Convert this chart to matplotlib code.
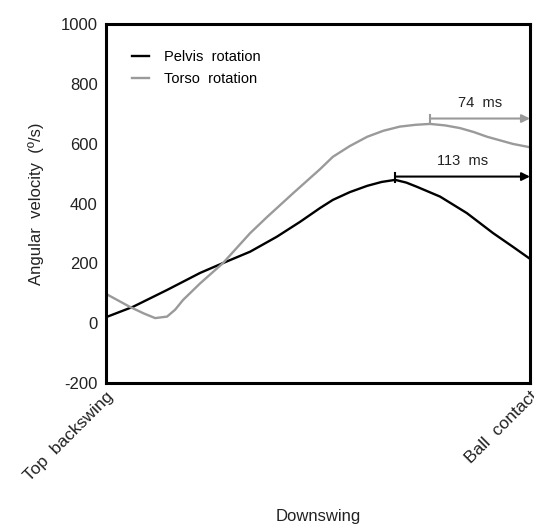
import numpy as np
import matplotlib
matplotlib.use('Agg')
import matplotlib.pyplot as plt

# % of downswing (top of backswing -> ball contact)
pelvis_t = [0, 6.4, 14.4, 22.2, 27.6, 34.0, 40.3, 45.8, 50.5, 53.5, 57.5, 61.6, 65.0, 68.2,
            70.8, 73.3, 78.8, 85.1, 91.3, 96.0, 100]
pelvis_v = [20, 55, 111, 168, 201, 239, 289, 339, 385, 412, 438, 459, 472, 479,
            470, 456, 423, 368, 301, 255, 215]

torso_t = [0, 5.7, 9.0, 11.6, 14.4, 16.3, 18.2, 22.2, 27.6, 34.0, 38.0, 44.1, 50.5, 53.5,
           57.5, 61.6, 65.4, 69.3, 73.0, 76.4, 80.0, 83.5, 86.7, 89.9, 96.0, 100]
torso_v = [98, 54, 32, 17, 22, 45, 78, 133, 201, 301, 355, 434, 515, 556,
           592, 623, 643, 657, 663, 666, 661, 652, 639, 623, 599, 588]

pelvis_label = '113  ms'
torso_label = '74  ms'
pelvis_arrow_y = 490
torso_arrow_y = 684

plt.rcParams['font.family'] = ['Liberation Sans', 'DejaVu Sans']
plt.rcParams['axes.unicode_minus'] = False

fig = plt.figure(figsize=(5.34, 5.27), dpi=100)
ax = fig.add_axes([0.1985, 0.2732, 0.7940, 0.6813])

black = '#000000'
gray = '#9a9a9a'

ax.plot(pelvis_t, pelvis_v, color=black, lw=1.7, label='Pelvis  rotation',
        solid_joinstyle='round')
ax.plot(torso_t, torso_v, color=gray, lw=1.7, label='Torso  rotation',
        solid_joinstyle='round')

# peak -> ball contact arrows
for t, v, ay, col, lab in [(pelvis_t, pelvis_v, pelvis_arrow_y, black, pelvis_label),
                           (torso_t, torso_v, torso_arrow_y, gray, torso_label)]:
    px = t[int(np.argmax(v))]
    ax.plot([px, px], [ay - 18, ay + 12], color=col, lw=1.5, clip_on=False)
    ax.annotate('', xy=(100, ay), xytext=(px, ay),
                arrowprops=dict(arrowstyle='-|>', color=col, lw=1.5,
                                shrinkA=0, shrinkB=0, mutation_scale=12),
                annotation_clip=False)
    ax.text(px + (100 - px) * 0.5, ay + 30, lab, ha='center', va='bottom',
            fontsize=10.5, color='#222222')

ax.set_xlim(0, 100)
ax.set_ylim(-200, 1000)
ax.set_yticks(np.arange(-200, 1001, 200))
ax.set_xticks([0, 100])
ax.set_xticklabels(['Top  backswing', 'Ball  contact'], rotation=45,
                   ha='right', rotation_mode='anchor')
ax.tick_params(length=0, labelsize=12, pad=6, colors='#222222')
ax.tick_params(axis='x', pad=4, labelsize=12.5)
for s in ax.spines.values():
    s.set_linewidth(2.2)

ax.set_ylabel('Angular  velocity  (º/s)', fontsize=12, labelpad=12, color='#222222')
ax.set_xlabel('Downswing', fontsize=12, labelpad=18, color='#222222')

ax.legend(loc='upper left', bbox_to_anchor=(0.03, 0.965), frameon=False,
          handlelength=1.2, handletextpad=1.0, fontsize=10.5, labelspacing=0.55)

fig.savefig('out.png', dpi=100)
